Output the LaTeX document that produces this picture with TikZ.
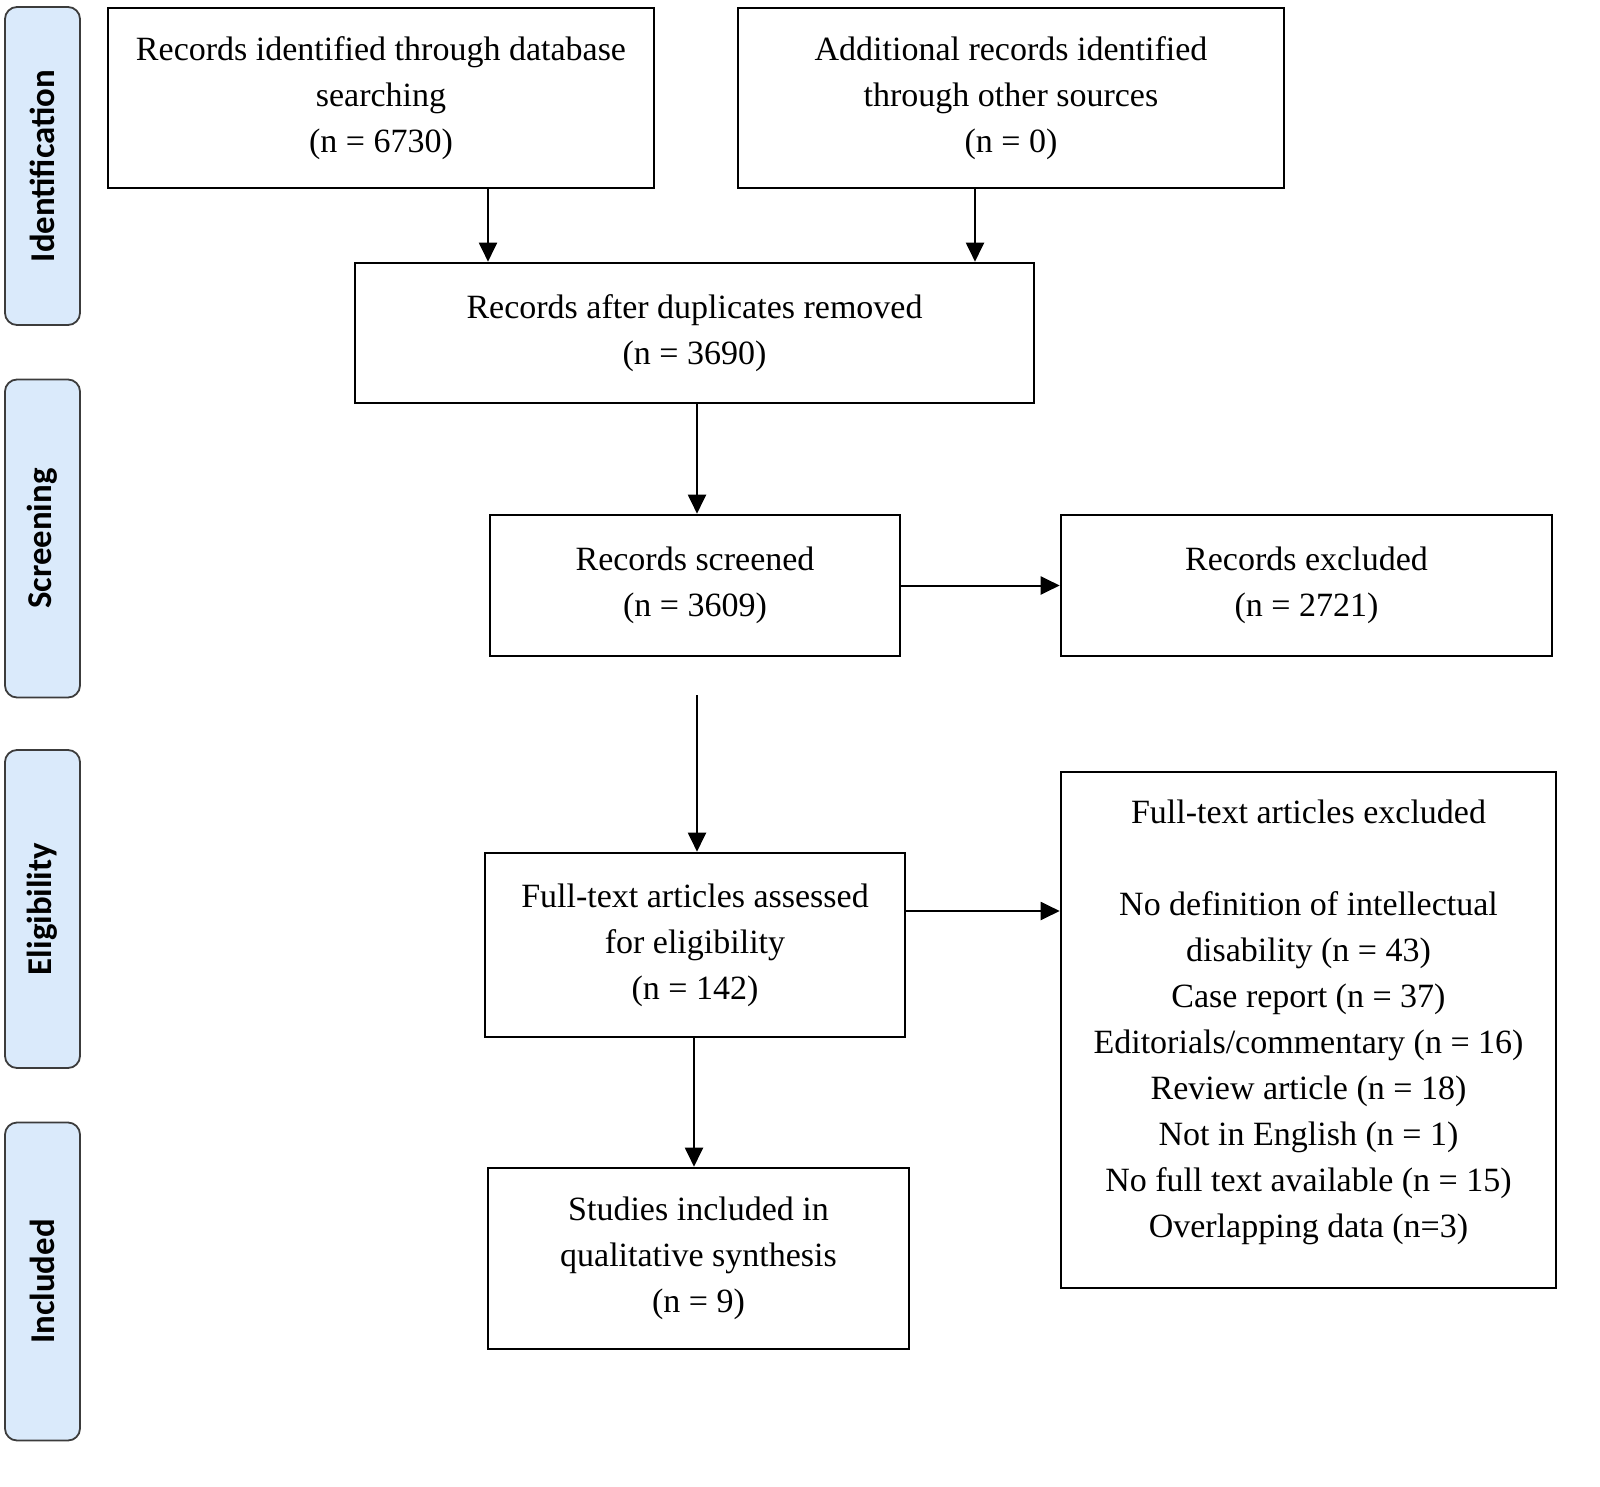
\documentclass[tikz,border=0pt]{standalone}
\usepackage{fontspec}
\setmainfont{Liberation Serif}
\newfontfamily\sidefont{Carlito}
\usetikzlibrary{arrows.meta}
\definecolor{sidefill}{HTML}{DAEAFB}
\definecolor{sideline}{HTML}{3C3C3C}
\begin{document}
\begin{tikzpicture}[x=0.5pt,y=-0.5pt,
  box/.style={draw=black, line width=1.3pt, rectangle, align=center, inner sep=0pt,
    font=\fontsize{17}{23}\selectfont},
  txt/.style={align=center, inner sep=0pt, font=\fontsize{17}{23}\selectfont},
  side/.style={draw=sideline, fill=sidefill, line width=0.9pt, rounded corners=6pt,
    minimum width=37.5pt, minimum height=159pt, inner sep=0pt},
  sidetxt/.style={rotate=90, font=\sidefont\bfseries\fontsize{17.4}{20}\selectfont, inner sep=0pt},
  arr/.style={line width=1pt, -{Triangle[length=9.5pt,width=9pt]}}
]
\useasboundingbox (0,0) rectangle (1600,1487);

% side phase boxes
\node[side] (s1) at (42.5,166) {};
\node[sidetxt] (t1) at (s1.center) {Identification};
\node[side] (s2) at (42.5,538.5) {};
\node[sidetxt] (t2) at (s2.center) {Screening};
\node[side] (s3) at (42.5,909) {};
\node[sidetxt] (t3) at (s3.center) {Eligibility};
\node[side] (s4) at (42.5,1281.5) {};
\node[sidetxt] (t4) at (s4.center) {Included};

% main boxes
\node[box, minimum width=273pt, minimum height=90pt] (b1) at (381,98)
  {Records identified through database\\searching\\(n = 6730)};
\node[box, minimum width=273pt, minimum height=90pt] (b2) at (1011,98)
  {Additional records identified\\through other sources\\(n = 0)};
\node[box, minimum width=339.5pt, minimum height=70pt] (b3) at (694.5,333)
  {Records after duplicates removed\\(n = 3690)};
\node[box, minimum width=205pt, minimum height=70.5pt] (b4) at (695,585.5)
  {Records screened\\(n = 3609)};
\node[box, minimum width=245.5pt, minimum height=70.5pt] (b5) at (1306.5,585.5)
  {Records excluded\\(n = 2721)};
\node[box, minimum width=210pt, minimum height=92pt] (b6) at (695,945)
  {Full-text articles assessed\\for eligibility\\(n = 142)};
\node[box, minimum width=247.5pt, minimum height=258pt] (b7) at (1308.5,1030) {};
\node[txt, anchor=north] (b7t) at (1308.5,799)
  {Full-text articles excluded\\[23pt]No definition of intellectual\\disability (n = 43)\\Case report (n = 37)\\Editorials/commentary (n = 16)\\Review article (n = 18)\\Not in English (n = 1)\\No full text available (n = 15)\\Overlapping data (n=3)};
\node[box, minimum width=210.5pt, minimum height=90.5pt] (b8) at (698.5,1258.5)
  {Studies included in\\qualitative synthesis\\(n = 9)};

% connectors
\coordinate (c1) at (488,0);
\coordinate (c2) at (975,0);
\coordinate (c3) at (697,0);
\coordinate (gap) at (697,695);
\coordinate (c4) at (694,0);
\draw[arr] (c1 |- b1.south) -- (c1 |- b3.north);
\draw[arr] (c2 |- b2.south) -- (c2 |- b3.north);
\draw[arr] (c3 |- b3.south) -- (c3 |- b4.north);
\draw[arr] (gap) -- (gap |- b6.north);
\draw[arr] (b4.east) -- (b5.west);
\draw[arr] (b6.east |- 0,911) -- (b7.west |- 0,911);
\draw[arr] (c4 |- b6.south) -- (c4 |- b8.north);
\end{tikzpicture}
\end{document}
